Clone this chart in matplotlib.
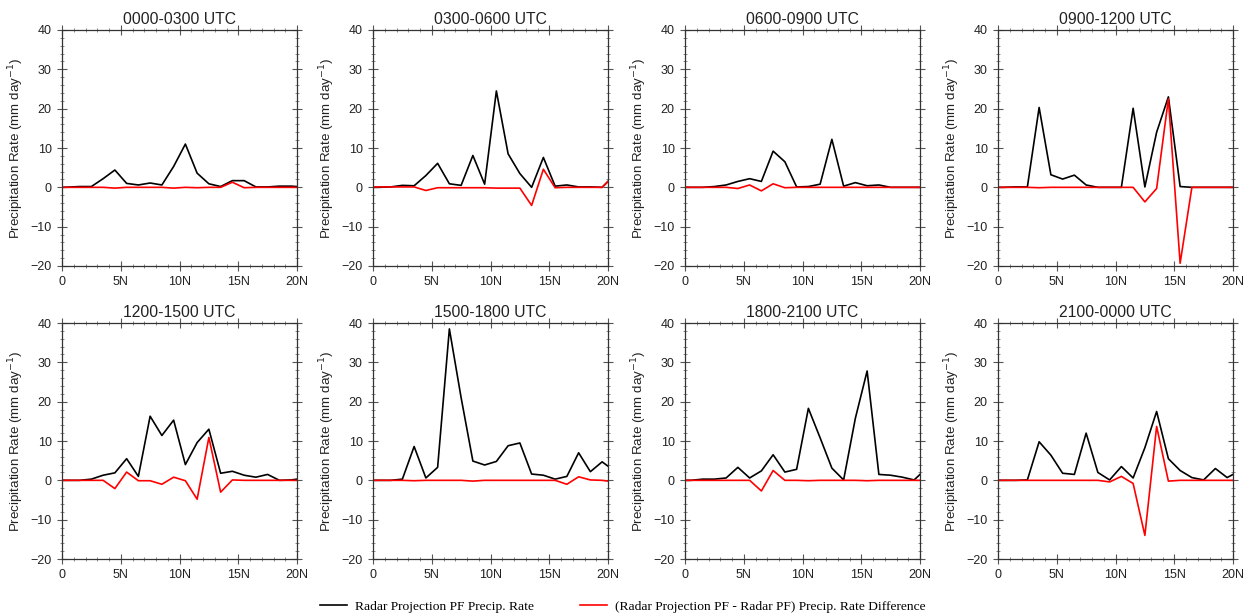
import numpy as np
import matplotlib.pyplot as plt
from matplotlib.ticker import MultipleLocator, FixedLocator

plt.rcParams['font.family'] = ['Liberation Sans', 'DejaVu Sans']

# latitude points: domain edges plus 1-degree bin centres
lat = [0, 0.5, 1.5, 2.5, 3.5, 4.5, 5.5, 6.5, 7.5, 8.5, 9.5, 10.5,
       11.5, 12.5, 13.5, 14.5, 15.5, 16.5, 17.5, 18.5, 19.5, 20]

titles = ['0000-0300 UTC', '0300-0600 UTC', '0600-0900 UTC', '0900-1200 UTC',
          '1200-1500 UTC', '1500-1800 UTC', '1800-2100 UTC', '2100-0000 UTC']

# radar projection PF precip rate (mm/day)
rate_00 = [0, 0.05, 0.2, 0.2, 2.2, 4.4, 1.0, 0.6, 1.1, 0.6, 5.3, 11.0,
           3.6, 0.9, 0.2, 1.7, 1.7, 0.1, 0.1, 0.3, 0.3, 0.2]
rate_03 = [0, 0, 0.1, 0.5, 0.4, 3.0, 6.1, 0.9, 0.5, 8.1, 0.8, 24.5,
           8.5, 3.5, 0.0, 7.6, 0.3, 0.6, 0.1, 0.1, 0.0, 1.5]
rate_06 = [0, 0, 0, 0.2, 0.6, 1.5, 2.2, 1.5, 9.2, 6.5, 0.1, 0.2,
           0.8, 12.2, 0.3, 1.2, 0.4, 0.6, 0, 0, 0, 0]
rate_09 = [0, 0, 0.1, 0.1, 20.3, 3.2, 2.1, 3.1, 0.6, 0, 0, 0,
           20.1, 0.1, 14.0, 23.0, 0.2, 0, 0, 0, 0, 0]
rate_12 = [0, 0, 0, 0.3, 1.3, 1.9, 5.5, 1.0, 16.3, 11.4, 15.3, 4.0,
           9.6, 13.0, 1.8, 2.3, 1.3, 0.8, 1.5, 0, 0.1, 0.3]
rate_15 = [0, 0, 0, 0.3, 8.6, 0.6, 3.3, 38.5, 21.0, 4.9, 3.9, 4.8,
           8.8, 9.5, 1.6, 1.3, 0.3, 1.0, 7.0, 2.2, 4.7, 3.6]
rate_18 = [0, 0, 0.3, 0.3, 0.6, 3.3, 0.6, 2.4, 6.5, 2.1, 2.8, 18.3,
           10.8, 3.1, 0.1, 15.8, 27.8, 1.5, 1.3, 0.8, 0.1, 1.5]
rate_21 = [0, 0, 0, 0.1, 9.8, 6.4, 1.8, 1.5, 12.0, 2.0, 0.1, 3.5,
           0.6, 8.3, 17.5, 5.5, 2.5, 0.7, 0.1, 3.0, 0.7, 1.5]

# (radar projection PF - radar PF) difference (mm/day)
diff_00 = [0, 0, 0, 0, 0, -0.2, 0, 0, 0, 0, -0.2, 0,
           -0.1, 0, 0, 1.3, -0.1, 0, 0, 0, 0, 0]
diff_03 = [0.1, 0.1, 0.1, 0.1, 0.1, -0.8, -0.1, -0.1, -0.1, -0.1, -0.1, -0.2,
           -0.2, -0.2, -4.6, 4.6, -0.1, 0, 0, 0, 0, 1.5]
diff_06 = [0, 0, 0, 0, 0, -0.3, 0.6, -0.9, 0.9, -0.1, 0, 0,
           0, 0, 0, 0, 0, 0, 0, 0, 0, 0]
diff_09 = [0, 0, 0, 0, -0.1, 0, 0, 0, 0, 0, 0, 0,
           0, -3.7, -0.3, 22.5, -19.3, 0, 0, 0, 0, 0]
diff_12 = [0, 0, 0, 0, 0, -2.1, 2.1, -0.1, -0.1, -1.0, 0.8, -0.1,
           -4.8, 10.9, -3.0, 0.1, 0, 0, 0, 0, 0, 0]
diff_15 = [0, 0, 0, 0, -0.1, 0, 0, 0, 0, -0.2, 0, 0,
           0, 0, 0, 0, 0, -1.0, 0.9, 0.1, 0, -0.2]
diff_18 = [0, 0, 0, 0, 0, 0, 0, -2.7, 2.5, 0, 0, -0.1,
           0, 0, 0, 0, -0.1, 0, 0, 0, 0, 0]
diff_21 = [0, 0, 0, 0, 0, 0, 0, 0, 0, 0, -0.4, 1.0,
           -0.8, -14.0, 13.7, -0.2, 0, 0, 0, 0, 0, 0]

rates = [rate_00, rate_03, rate_06, rate_09, rate_12, rate_15, rate_18, rate_21]
diffs = [diff_00, diff_03, diff_06, diff_09, diff_12, diff_15, diff_18, diff_21]

W, H = 1245, 615
fig = plt.figure(figsize=(W / 100, H / 100), dpi=100)

lefts = [62, 373, 685, 998]
tops = [30, 323]
aw, ah = 235, 236

txt = '#222222'
handles = None
for i in range(8):
    r, c = divmod(i, 4)
    ax = fig.add_axes([lefts[c] / W, 1 - (tops[r] + ah) / H, aw / W, ah / H])
    l1, = ax.plot(lat, rates[i], color='black', lw=1.2)
    l2, = ax.plot(lat, diffs[i], color='red', lw=1.2)
    handles = [l1, l2]
    ax.set_xlim(0, 20)
    ax.set_ylim(-20, 40)
    ax.xaxis.set_major_locator(FixedLocator([0, 5, 10, 15, 20]))
    ax.set_xticklabels(['0', '5N', '10N', '15N', '20N'])
    ax.xaxis.set_minor_locator(MultipleLocator(1))
    ax.yaxis.set_major_locator(MultipleLocator(10))
    ax.yaxis.set_minor_locator(MultipleLocator(2))
    ax.tick_params(which='major', direction='inout', length=7, width=0.8,
                   top=True, right=True, labelsize=9, colors='#555555',
                   labelcolor=txt, pad=4)
    ax.tick_params(which='minor', direction='inout', length=3.5, width=0.6,
                   top=True, right=True, colors='#777777')
    for s in ax.spines.values():
        s.set_linewidth(0.9)
        s.set_color('#333333')
    ax.set_title(titles[i], fontsize=11.3, color=txt, pad=4)
    ax.set_ylabel('Precipitation Rate (mm day$^{-1}$)', fontsize=9.6,
                  color=txt, labelpad=3)

fig.legend(handles, ['Radar Projection PF Precip. Rate',
                     '(Radar Projection PF - Radar PF) Precip. Rate Difference'],
           loc='lower center', bbox_to_anchor=(0.5, -0.016), ncol=2, frameon=False,
           prop={'family': 'Liberation Serif', 'size': 9.7},
           handlelength=2.0, columnspacing=3.4, handletextpad=0.6)

fig.savefig('out.png', dpi=100)
